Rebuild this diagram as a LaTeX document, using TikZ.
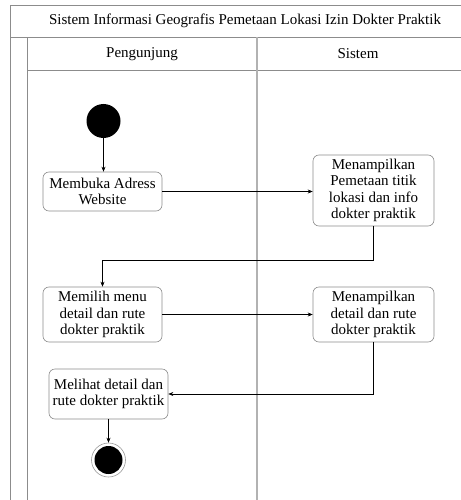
\documentclass[tikz,border=0pt]{standalone}
\usepackage{fontspec}
\setmainfont{Liberation Serif}
\usetikzlibrary{arrows.meta}

\tikzset{
  frame/.style={draw=black!45, line width=0.8pt},
  lanesep/.style={draw=black!30, line width=1.6pt},
  action/.style={draw=black!45, line width=0.6pt, rounded corners=6pt, fill=white,
    align=center, inner sep=1pt, font=\fontsize{15}{16.5}\selectfont},
  flow/.style={draw=black, line width=0.5pt, -{Stealth[length=5pt,width=4pt]}},
  initial/.style={circle, fill=black, minimum size=34pt, inner sep=0pt},
  final/.style={circle, draw=black!40, line width=0.6pt, minimum size=34pt, inner sep=0pt,
    path picture={\fill[black] (path picture bounding box.center) circle (14pt);}},
  title/.style={font=\fontsize{15}{16}\selectfont}
}

\begin{document}
\begin{tikzpicture}[x=1pt, y=-1pt]
  \useasboundingbox (0,0) rectangle (460,500);

  % swimlane frame
  \draw[frame] (10,500) -- (10,5) -- (462,5);
  \draw[frame] (10,37) -- (462,37);
  \draw[frame] (27,500) -- (27,37);
  \draw[frame] (27,70) -- (462,70);
  \draw[lanesep] (257,37) -- (257,500);

  \node[title] (judul) at (245,21) {Sistem Informasi Geografis Pemetaan Lokasi Izin Dokter Praktik};
  \node[title] (lane1) at (142,54) {Pengunjung};
  \node[title] (lane2) at (358,54) {Sistem};

  % activity nodes
  \node[initial] (start) at (103.5,121) {};
  \node[action, minimum width=119pt, minimum height=39pt] (buka) at (102.5,191.5)
    {Membuka Adress\\Website};
  \node[action, minimum width=121pt, minimum height=71pt] (peta) at (373.5,190.5)
    {Menampilkan\\Pemetaan titik\\lokasi dan info\\dokter praktik};
  \node[action, minimum width=119pt, minimum height=55pt] (pilih) at (102.5,314.5)
    {Memilih menu\\detail dan rute\\dokter praktik};
  \node[action, minimum width=121pt, minimum height=55pt] (tampil) at (373.5,314.5)
    {Menampilkan\\detail dan rute\\dokter praktik};
  \node[action, minimum width=119pt, minimum height=50pt] (lihat) at (108.5,394)
    {Melihat detail dan\\rute dokter praktik};
  \node[final] (end) at (108.5,460) {};

  \coordinate (belok) at (373.5,260);

  % control flow
  \draw[flow] (start.south) -- (start.south |- buka.north);
  \draw[flow] (buka.east) -- (peta.west |- buka.east);
  \draw[flow] (peta.south) -- (belok) -| (pilih.north);
  \draw[flow] (pilih.east) -- (tampil.west |- pilih.east);
  \draw[flow] (tampil.south) |- (lihat.east);
  \draw[flow] (lihat.south) -- (end.north);
\end{tikzpicture}
\end{document}
